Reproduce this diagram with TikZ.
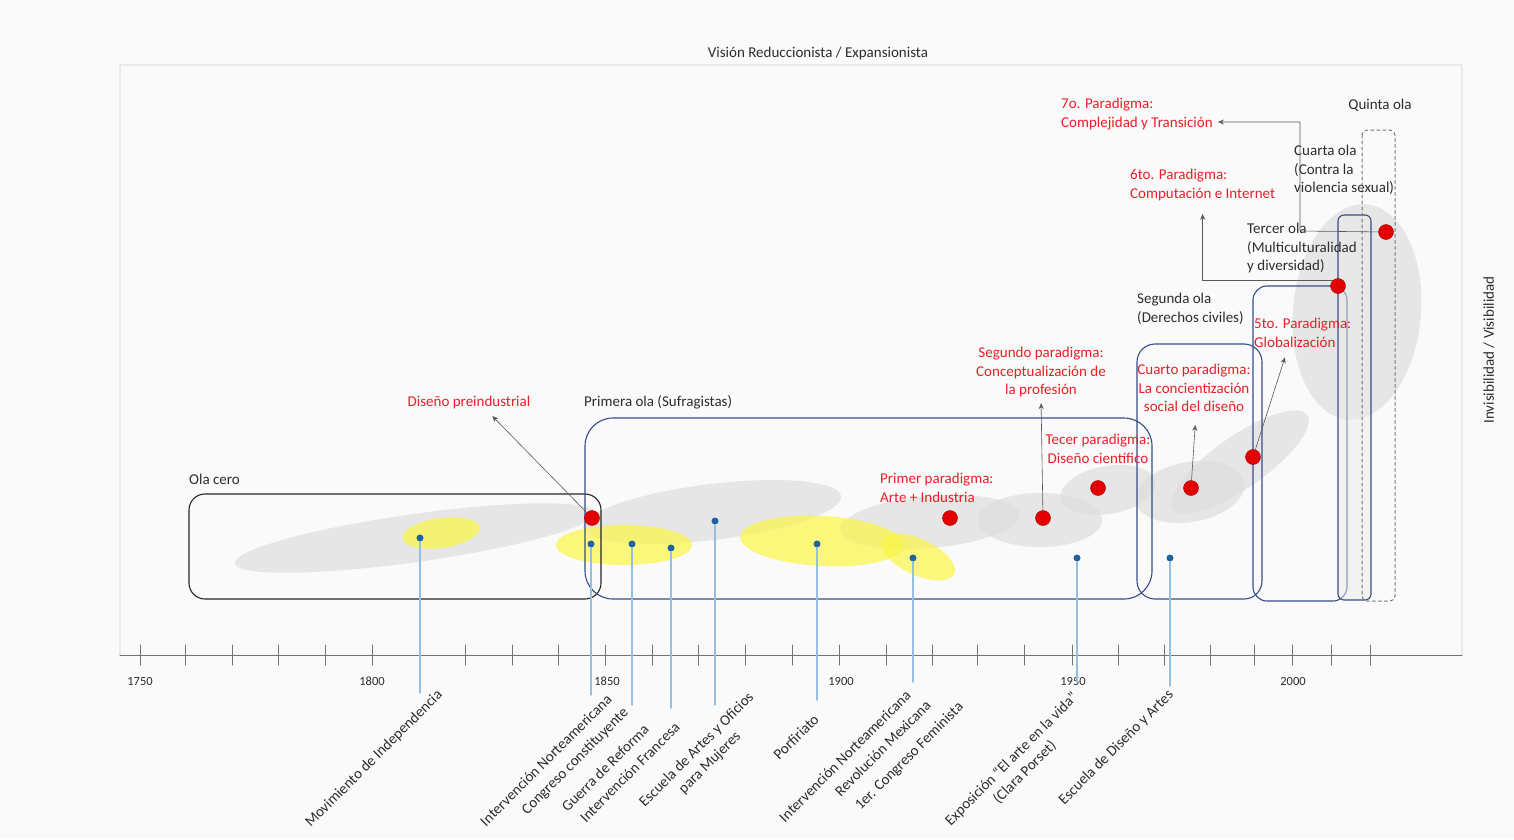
\documentclass[tikz,border=0pt]{standalone}
\usepackage{fontspec}
\setmainfont{Carlito}
\usetikzlibrary{arrows.meta}

\definecolor{bgcol}{RGB}{250,250,250}
\definecolor{paradigmred}{RGB}{232,32,40}
\definecolor{dotred}{RGB}{228,0,0}
\definecolor{olablue}{RGB}{55,75,135}
\definecolor{eventblue}{RGB}{30,100,160}
\definecolor{eventline}{RGB}{150,190,225}
\definecolor{blobgray}{RGB}{222,222,222}
\definecolor{blobyellow}{RGB}{250,246,70}
\definecolor{textgray}{RGB}{45,45,45}

\begin{document}
\begin{tikzpicture}[x=1pt, y=-1pt, font=\fontsize{15}{18.5}\selectfont, line join=round, line cap=round, >={Stealth[length=6pt,width=5pt]}]
	\tikzset{
		paradot/.style={circle, fill=dotred, draw=red!60!black, line width=0.4pt, minimum size=15pt, inner sep=0pt},
		eventdot/.style={circle, fill=eventblue, minimum size=7pt, inner sep=0pt},
		paralabel/.style={text=paradigmred, align=center, inner sep=1pt},
		olalabel/.style={text=textgray, align=left, inner sep=1pt, anchor=west},
		eventlabel/.style={text=textgray, rotate=45, anchor=east, align=center, inner sep=1pt},
		olabox/.style={draw=olablue, line width=1.1pt},
		pointer/.style={->, draw=black!65, line width=0.6pt},
		evline/.style={draw=eventline, line width=1.4pt},
	}
	
	\fill[bgcol] (0,0) rectangle (1514,839);
	\useasboundingbox (0,0) rectangle (1514,839);
	
	% marco
	\draw[black!8, line width=2pt] (120,655) -- (120,65) -- (1462,65) -- (1462,655);
	\node[text=textgray] (title) at (818,53) {Visión Reduccionista / Expansionista};
	\node[text=textgray, rotate=90] (side) at (1489,350) {Invisibilidad / Visibilidad};
	
	% manchas
	\begin{scope}[opacity=0.7]
		\foreach \cx/\cy/\rx/\ry/\ang in {415/538/182/24/8, 712/512/130/28/7, 930/522/90/26/5, 1040/520/62/27/0, 1108/490/48/24/10, 1190/492/55/30/10, 1240/462/82/26/35, 1357/312/64/108/-5}
			\fill[blobgray, rotate around={\ang:(\cx,\cy)}] (\cx,\cy) ellipse [x radius=\rx, y radius=\ry];
		\foreach \cx/\cy/\rx/\ry/\ang in {441/533/39/15/8, 624/545/68/20/0, 822/541/82/25/-3, 918/557/40/18/-25}
			\fill[blobyellow, rotate around={\ang:(\cx,\cy)}] (\cx,\cy) ellipse [x radius=\rx, y radius=\ry];
	\end{scope}
	
	% olas
	\draw[draw=black!85, line width=1.1pt, rounded corners=16pt] (189,494) rectangle (601,599);
	\draw[olabox, rounded corners=28pt] (585,418) rectangle (1152,599);
	\draw[olabox, rounded corners=18pt] (1137,344) rectangle (1262,599);
	\draw[olabox, rounded corners=14pt] (1253,286) rectangle (1347,601);
	\draw[olabox, fill=black!8, fill opacity=0.5, rounded corners=6pt] (1338,215) rectangle (1371,600);
	\draw[black!55, dashed, line width=1pt, rounded corners=5pt] (1362,130) rectangle (1395,601);
	\node[olalabel] (ola0) at (188,479) {Ola cero};
	\node[olalabel] (ola1) at (583,402) {Primera ola (Sufragistas)};
	\node[olalabel] (ola2) at (1136,309) {Segunda ola\\(Derechos civiles)};
	\node[olalabel] (ola3) at (1246,248) {Tercer ola\\(Multiculturalidad\\y diversidad)};
	\node[olalabel] (ola4) at (1293,170) {Cuarta ola\\(Contra la\\violencia sexual)};
	\node[text=textgray] (ola5) at (1380,105) {Quinta ola};
	
	% eje
	\draw[black!55, line width=1pt] (120,655) -- (1462,655);
	\foreach \x in {140,185,232,278,325,372,419,465,512,558,605,652,698,745,792,839,886,932,977,1024,1072,1118,1164,1210,1254,1292,1331,1370}
		\draw[black!55, line width=1pt] (\x,645) -- (\x,665);
	\foreach \x/\yr in {140/1750,372/1800,607/1850,841/1900,1073/1950,1293/2000}
		\node[font=\fontsize{12.5}{14}\selectfont, text=textgray] (yr\yr) at (\x,681) {\yr};
	
	% acontecimientos
	\foreach \n/\x/\y/\e in {1/420/538/693, 2/591/544/695, 3/632/544/705, 4/671/548/708, 5/715/521/705, 6/817/544/700, 7/913/558/682, 8/1077/558/682, 9/1170/558/686}{
		\node[eventdot] (ev\n) at (\x,\y) {};
		\coordinate (ee\n) at (\x,\e);
		\draw[evline] (ev\n) -- (ee\n);
	}
	\node[eventlabel] (lab1) at (441,692) {Movimiento de Independencia};
	\node[eventlabel] (lab2) at (610,696) {Intervención Norteamericana};
	\node[eventlabel] (lab3) at (627,710) {Congreso constituyente};
	\node[eventlabel] (lab4) at (647,726) {Guerra de Reforma};
	\node[eventlabel] (lab5) at (678,724) {Intervención Francesa};
	\node[eventlabel] (lab6) at (759,701) {Escuela de Artes y Oficios\\para Mujeres};
	\node[eventlabel] (lab7) at (817,716) {Porfiriato};
	\node[eventlabel] (lab8) at (909,692) {Intervención Norteamericana};
	\node[eventlabel] (lab9) at (929,702) {Revolución Mexicana};
	\node[eventlabel] (lab10) at (962,704) {1er. Congreso Feminista};
	\node[eventlabel] (lab11) at (1083,701) {Exposición “El arte en la vida”\\(Clara Porset)};
	\node[eventlabel] (lab12) at (1172,692) {Escuela de Diseño y Artes};
	
	% paradigmas
	\node[paralabel] (par0) at (469,402) {Diseño preindustrial};
	\node[paralabel, align=left, anchor=west] (par1) at (879,488) {Primer paradigma:\\Arte + Industria};
	\node[paralabel] (par2) at (1041,372) {Segundo paradigma:\\Conceptualización de\\la profesión};
	\node[paralabel] (par3) at (1098,449) {Tecer paradigma:\\Diseño científico};
	\node[paralabel] (par4) at (1194,388) {Cuarto paradigma:\\La concientización\\social del diseño};
	\node[paralabel, align=left, anchor=west] (par5) at (1253,333) {5to. Paradigma:\\Globalización};
	\node[paralabel, align=left, anchor=west] (par6) at (1129,185) {6to. Paradigma:\\Computación e Internet};
	\node[paralabel, align=left, anchor=west] (par7) at (1060,114) {7o. Paradigma:\\Complejidad y Transición};
	
	\node[paradot] (p0) at (592,518) {};
	\node[paradot] (p1) at (950,518) {};
	\node[paradot] (p2) at (1043,518) {};
	\node[paradot] (p3) at (1098,488) {};
	\node[paradot] (p4) at (1191,488) {};
	\node[paradot] (p5) at (1253,457) {};
	\node[paradot] (p6) at (1338,286) {};
	\node[paradot] (p7) at (1386,232) {};
	\coordinate (c7) at (1300,231);
	
	\draw[pointer, shorten >=9pt] (p0) -- ([xshift=17pt]par0.south);
	\draw[pointer, shorten >=5pt] (p2) -- (par2.south);
	\draw[pointer, shorten >=12pt] (p4) -- ([xshift=2pt]par4.south);
	\draw[pointer, shorten >=9pt] (p5) -- ([xshift=-15pt]par5.south);
	\draw[pointer, shorten >=12pt] (p6.north west) -| (par6.south);
	\draw[pointer, shorten >=4pt] (p7) -- (c7) |- ([yshift=-8pt]par7.east);
\end{tikzpicture}
\end{document}
